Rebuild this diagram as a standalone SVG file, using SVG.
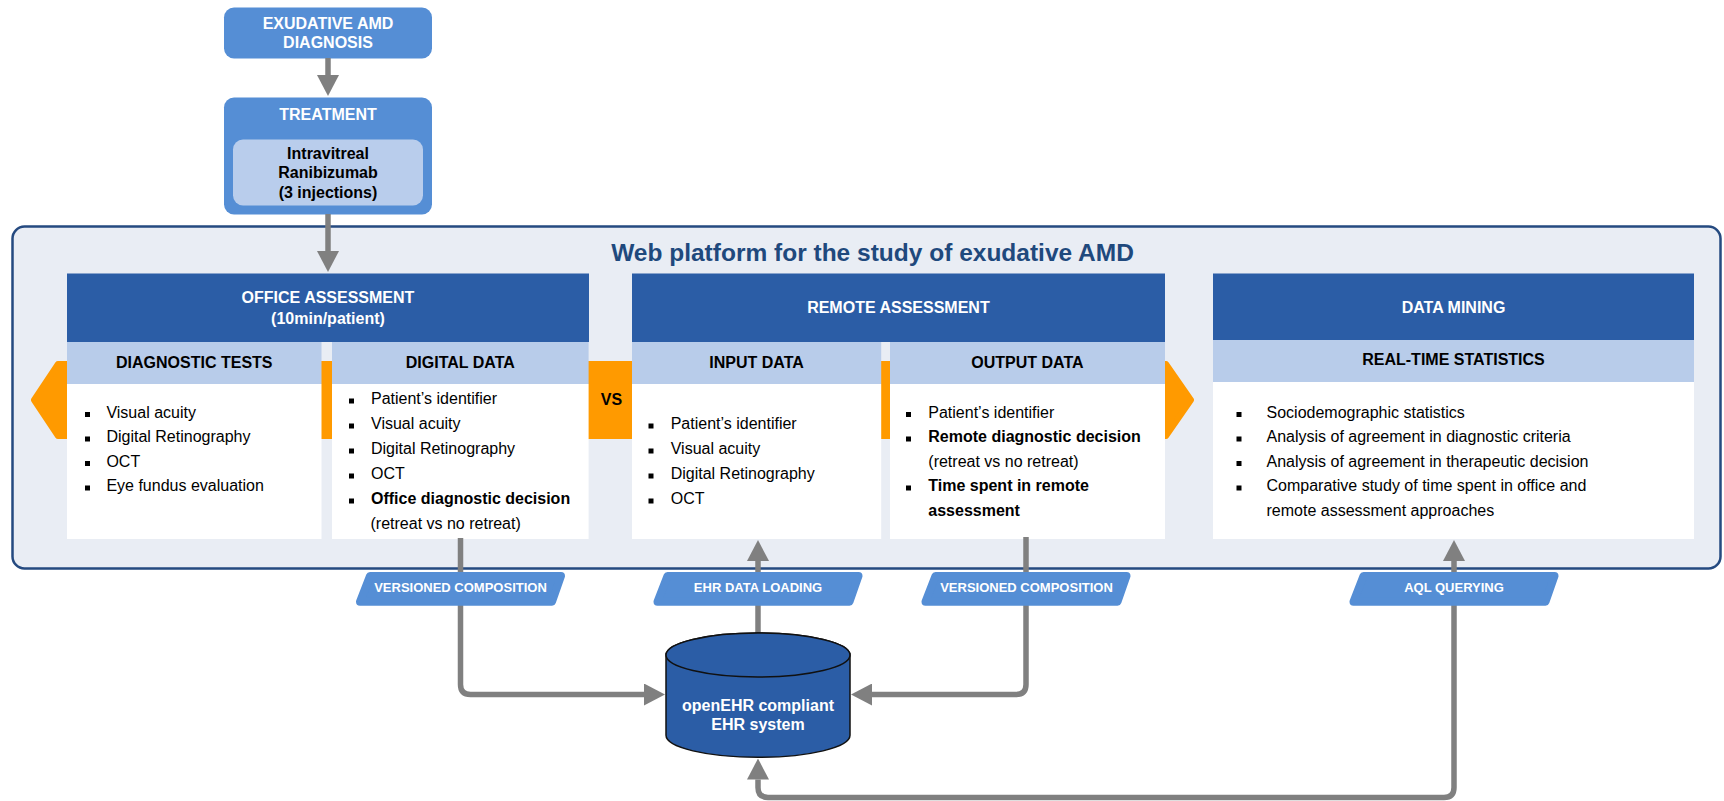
<svg xmlns="http://www.w3.org/2000/svg" width="1724" height="801" viewBox="0 0 1724 801">
<defs>
<style>
text{font-family:"Liberation Sans",Arial,sans-serif;}
.w{fill:#fff;font-weight:bold;font-size:16px;text-anchor:middle;}
.k{fill:#000;font-weight:bold;font-size:16px;text-anchor:middle;}
.b{fill:#000;font-size:16px;}
.bb{fill:#000;font-size:16px;font-weight:bold;}
.tag{fill:#fff;font-weight:bold;font-size:13px;text-anchor:middle;}
.mid{fill:#558ED5;}
.dark{fill:#2B5DA6;}
.sub{fill:#B8CCEA;}
.body{fill:#fff;}
.tagshape{fill:#558ED5;stroke:#558ED5;stroke-width:8;stroke-linejoin:round;}
.conn{fill:none;stroke:#808080;stroke-width:5.5;}
.bul{fill:#000;}
</style>
<marker id="ah" viewBox="0 0 21 22" refX="0" refY="11" markerWidth="21" markerHeight="22" markerUnits="userSpaceOnUse" orient="auto-start-reverse">
<path d="M0,0 L21,11 L0,22 Z" fill="#808080"/>
</marker>
</defs>
<rect width="1724" height="801" fill="#fff"/>

<g id="platform">
<rect x="12.5" y="226.5" width="1708" height="342" rx="12" fill="#E9EDF4" stroke="#254A80" stroke-width="2.5"/>
<text x="872.5" y="261" font-size="24.5" font-weight="bold" fill="#1F497D" text-anchor="middle">Web platform for the study of exudative AMD</text>
</g>

<g id="orange-arrow">
<polygon points="34,400 58,364 1166,364 1191,400 1166,436 58,436" fill="#FF9A00" stroke="#FF9A00" stroke-width="6" stroke-linejoin="round"/>
</g>

<g id="exudative">
<rect class="mid" x="224" y="7.5" width="208" height="51" rx="10"/>
<text class="w" x="328" y="28.5">EXUDATIVE AMD</text>
<text class="w" x="328" y="48">DIAGNOSIS</text>
</g>

<g id="treatment">
<rect class="mid" x="224" y="97.5" width="208" height="117" rx="10"/>
<text class="w" x="328" y="120">TREATMENT</text>
<rect x="233" y="139.5" width="190" height="66" rx="10" fill="#B9CDEC"/>
<text class="k" x="328" y="158.5">Intravitreal</text>
<text class="k" x="328" y="178">Ranibizumab</text>
<text class="k" x="328" y="197.5">(3 injections)</text>
</g>

<g id="office">
<rect class="dark" x="67" y="273.5" width="522" height="68.5"/>
<text class="w" x="328" y="303">OFFICE ASSESSMENT</text>
<text class="w" x="328" y="323.5">(10min/patient)</text>
<rect class="sub" x="67" y="342" width="254.5" height="42"/>
<text class="k" x="194.3" y="368">DIAGNOSTIC TESTS</text>
<rect class="body" x="67" y="384" width="254.5" height="155"/>
<rect class="bul" x="85" y="412" width="5" height="5"/>
<rect class="bul" x="85" y="436.5" width="5" height="5"/>
<rect class="bul" x="85" y="461" width="5" height="5"/>
<rect class="bul" x="85" y="485.5" width="5" height="5"/>
<text class="b" x="106.4" y="417.5">Visual acuity</text>
<text class="b" x="106.4" y="442">Digital Retinography</text>
<text class="b" x="106.4" y="466.5">OCT</text>
<text class="b" x="106.4" y="491">Eye fundus evaluation</text>
<rect class="sub" x="332" y="342" width="256.6" height="42"/>
<text class="k" x="460.3" y="368">DIGITAL DATA</text>
<rect class="body" x="332" y="384" width="256.6" height="155"/>
<rect class="bul" x="349" y="398.5" width="5" height="5"/>
<rect class="bul" x="349" y="423.5" width="5" height="5"/>
<rect class="bul" x="349" y="448.5" width="5" height="5"/>
<rect class="bul" x="349" y="473.5" width="5" height="5"/>
<rect class="bul" x="349" y="498.5" width="5" height="5"/>
<text class="b" x="371" y="404">Patient’s identifier</text>
<text class="b" x="371" y="429">Visual acuity</text>
<text class="b" x="371" y="454">Digital Retinography</text>
<text class="b" x="371" y="479">OCT</text>
<text class="bb" x="371" y="504">Office diagnostic decision</text>
<text class="b" x="370.5" y="528.5">(retreat vs no retreat)</text>
</g>

<g id="vs">
<rect x="589" y="361" width="43" height="78" fill="#FF9A00"/>
<text class="k" x="611.5" y="405">VS</text>
</g>

<g id="remote">
<rect class="dark" x="632" y="273.5" width="533" height="68.5"/>
<text class="w" x="898.4" y="313">REMOTE ASSESSMENT</text>
<rect class="sub" x="632" y="342" width="249.2" height="42"/>
<text class="k" x="756.6" y="368">INPUT DATA</text>
<rect class="body" x="632" y="384" width="249.2" height="155"/>
<rect class="bul" x="648.5" y="423.5" width="5" height="5"/>
<rect class="bul" x="648.5" y="448.5" width="5" height="5"/>
<rect class="bul" x="648.5" y="473.5" width="5" height="5"/>
<rect class="bul" x="648.5" y="498.5" width="5" height="5"/>
<text class="b" x="670.7" y="429">Patient’s identifier</text>
<text class="b" x="670.7" y="454">Visual acuity</text>
<text class="b" x="670.7" y="479">Digital Retinography</text>
<text class="b" x="670.7" y="504">OCT</text>
<rect class="sub" x="890" y="342" width="275" height="42"/>
<text class="k" x="1027.4" y="368">OUTPUT DATA</text>
<rect class="body" x="890" y="384" width="275" height="155"/>
<rect class="bul" x="906" y="412" width="5" height="5"/>
<rect class="bul" x="906" y="436.5" width="5" height="5"/>
<rect class="bul" x="906" y="485.5" width="5" height="5"/>
<text class="b" x="928.3" y="417.5">Patient’s identifier</text>
<text class="bb" x="928.3" y="442">Remote diagnostic decision</text>
<text class="b" x="928.3" y="466.5">(retreat vs no retreat)</text>
<text class="bb" x="928.3" y="491">Time spent in remote</text>
<text class="bb" x="928.3" y="516">assessment</text>
</g>

<g id="datamining">
<rect class="dark" x="1213" y="273.5" width="481" height="66.5"/>
<text class="w" x="1453.5" y="313">DATA MINING</text>
<rect class="sub" x="1213" y="340" width="481" height="42"/>
<text class="k" x="1453.5" y="365">REAL-TIME STATISTICS</text>
<rect class="body" x="1213" y="382" width="481" height="157"/>
<rect class="bul" x="1236.5" y="412" width="5" height="5"/>
<rect class="bul" x="1236.5" y="436.5" width="5" height="5"/>
<rect class="bul" x="1236.5" y="461" width="5" height="5"/>
<rect class="bul" x="1236.5" y="485.5" width="5" height="5"/>
<text class="b" x="1266.5" y="417.5">Sociodemographic statistics</text>
<text class="b" x="1266.5" y="442">Analysis of agreement in diagnostic criteria</text>
<text class="b" x="1266.5" y="466.5">Analysis of agreement in therapeutic decision</text>
<text class="b" x="1266.5" y="491">Comparative study of time spent in office and</text>
<text class="b" x="1266.5" y="516">remote assessment approaches</text>
</g>

<g id="connectors">
<path class="conn" d="M328,58 V75" marker-end="url(#ah)"/>
<path class="conn" d="M328,214 V251" marker-end="url(#ah)"/>
<path class="conn" d="M460.5,538 V684.5 Q460.5,694.5 470.5,694.5 H644" marker-end="url(#ah)"/>
<path class="conn" d="M758,634 V561" marker-end="url(#ah)"/>
<path class="conn" d="M1026,537 V684.5 Q1026,694.5 1016,694.5 H872" marker-end="url(#ah)"/>
<path class="conn" d="M758,779.5 V787.5 Q758,797.5 768,797.5 H1444 Q1454,797.5 1454,787.5 V561" marker-start="url(#ah)" marker-end="url(#ah)"/>
</g>

<g id="tag-vc1">
<polygon class="tagshape" points="370,576 561,576 552,601.7 360,601.7"/>
<text class="tag" x="460.5" y="592.4">VERSIONED COMPOSITION</text>
</g>
<g id="tag-ehr">
<polygon class="tagshape" points="667.5,576 858.5,576 849.5,601.7 657.5,601.7"/>
<text class="tag" x="758" y="592.4">EHR DATA LOADING</text>
</g>
<g id="tag-vc2">
<polygon class="tagshape" points="935.5,576 1126.5,576 1117.5,601.7 925.5,601.7"/>
<text class="tag" x="1026.5" y="592.4">VERSIONED COMPOSITION</text>
</g>
<g id="tag-aql">
<polygon class="tagshape" points="1363.5,576 1554.5,576 1545.5,601.7 1353.5,601.7"/>
<text class="tag" x="1454" y="592.4">AQL QUERYING</text>
</g>

<g id="ehr-system">
<path d="M666,655 V735.3 A92,22 0 0 0 850,735.3 V655 A92,22 0 0 0 666,655 Z" fill="#2B5DA6" stroke="#111" stroke-width="1.5"/>
<ellipse cx="758" cy="655" rx="92" ry="22" fill="#2B5DA6" stroke="#111" stroke-width="1.5"/>
<text class="w" x="758" y="710.7">openEHR compliant</text>
<text class="w" x="758" y="730">EHR system</text>
</g>
</svg>
